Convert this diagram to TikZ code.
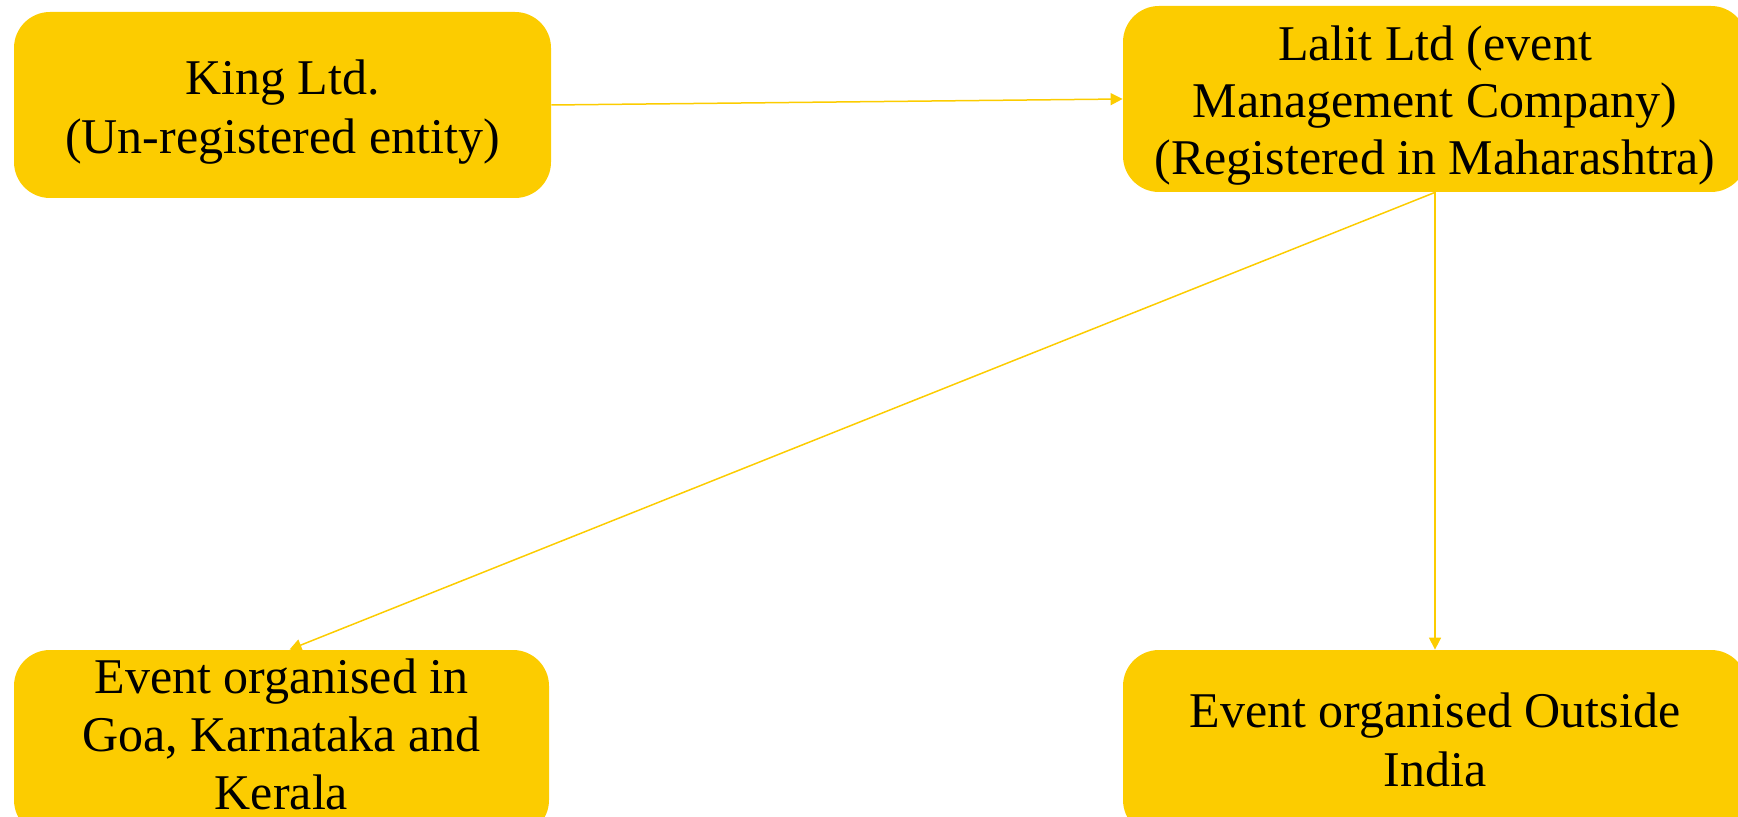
\documentclass[tikz,border=0pt]{standalone}
\usepackage{fontspec}
\setmainfont{Liberation Serif}
\usetikzlibrary{arrows.meta}
\definecolor{boxyellow}{RGB}{252,204,0}
\begin{document}
\begin{tikzpicture}[x=0.5pt,y=-0.5pt,
  entity/.style={rectangle, rounded corners=18pt, fill=boxyellow, draw=none,
    minimum height=93pt, inner sep=0pt},
  caption/.style={align=center, inner sep=0pt,
    font=\fontsize{25}{29.5}\selectfont, text=black},
  link/.style={draw=boxyellow, line width=0.75pt,
    -{Triangle[length=6pt,width=6pt]}}]
  \useasboundingbox (0,0) rectangle (1738,817);
  \clip (0,0) rectangle (1738,817);

  \node[entity, minimum width=268.5pt,
    label={[caption, yshift=-3.3pt]center:{King Ltd.\\(Un-registered entity)}}]
    (king) at (282.5,105) {};
  \node[entity, minimum width=312pt,
    label={[caption, yshift=-3.5pt, font=\fontsize{25}{28.5}\selectfont]center:{Lalit Ltd (event\\Management Company)\\(Registered in Maharashtra)}}]
    (lalit) at (1435,99) {};
  \node[entity, minimum width=267.5pt,
    label={[caption, yshift=4.5pt, font=\fontsize{25}{29}\selectfont]center:{Event organised in\\Goa, Karnataka and\\Kerala}}]
    (goa) at (281.5,743) {};
  \node[entity, minimum width=312pt,
    label={[caption, yshift=1.7pt]center:{Event organised Outside\\India}}]
    (abroad) at (1435,743) {};

  \draw[link] (king.east) -- (lalit.west);
  \draw[link] (lalit.south) -- ([xshift=4pt]goa.north);
  \draw[link] (lalit.south) -- (abroad.north);
\end{tikzpicture}
\end{document}
